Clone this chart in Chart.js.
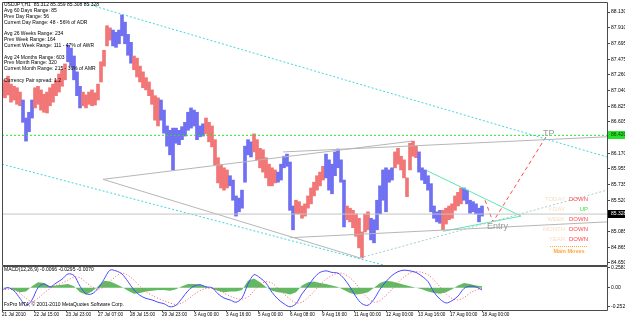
<!DOCTYPE html>
<html>
<head>
<meta charset="utf-8">
<title>USDJPY H1</title>
<script src="https://cdn.jsdelivr.net/npm/chart.js@4.4.1/dist/chart.umd.min.js"></script>
<style>
  html, body { margin: 0; padding: 0; background: #fff; }
  #wrap { position: relative; width: 625px; height: 319px; background: #fff; overflow: hidden; }
  canvas { position: absolute; left: 0; }
  #price { top: 0; }
  #macd  { top: 258px; }
</style>
</head>
<body>
<div id="wrap">
  <canvas id="price" width="625" height="266"></canvas>
  <canvas id="macd" width="625" height="61"></canvas>
</div>
<script>
/* USDJPY H1 — MT4 screen with trend lines, range info and MACD pane */

// ---- price bars, one sample every 3 hours (bar index from 21 Jul 2010 00:00)
const barHigh = [
  87.13, 87.19, 87.24, 87.13, 87.10, 87.08, 87.02, 86.91, 86.66, 86.74,
  86.91, 87.08, 87.10, 87.05, 86.99, 87.02, 87.08, 87.13, 87.19, 87.27,
  87.33, 87.41, 87.67, 87.63, 87.52, 87.30, 87.10, 87.02, 86.98, 87.02,
  87.05, 87.01, 87.13, 87.44, 87.60, 87.94, 87.91, 87.88, 87.85, 87.88,
  88.09, 87.99, 87.82, 87.71, 87.52, 87.49, 87.38, 87.30, 87.22, 87.16,
  87.05, 86.97, 86.94, 86.91, 86.77, 86.55, 86.49, 86.52, 86.52, 86.49,
  86.54, 86.60, 86.74, 86.80, 86.77, 86.74, 86.55, 86.58, 86.66, 86.60,
  86.55, 86.36, 86.11, 86.01, 85.97, 85.94, 85.86, 85.80, 85.58, 85.55,
  85.66, 86.27, 86.36, 86.33, 86.44, 86.36, 86.24, 86.22, 86.11, 86.02,
  85.97, 85.94, 85.91, 86.02, 86.13, 86.16, 86.05, 85.44, 85.52, 85.50,
  85.44, 85.47, 85.58, 85.69, 85.77, 85.86, 85.91, 85.99, 86.16, 86.08,
  86.02, 86.19, 86.23, 86.08, 85.80, 85.44, 85.41, 85.38, 85.33, 85.27,
  85.08, 85.33, 85.36, 85.27, 85.25, 85.52, 85.72, 85.94, 85.97, 85.94,
  85.97, 86.19, 86.24, 86.13, 86.08, 85.83, 86.31, 86.34, 86.27, 86.19,
  85.97, 85.94, 85.86, 85.75, 85.44, 85.36, 85.38, 85.38, 85.41, 85.44,
  85.47, 85.58, 85.63, 85.69, 85.69, 85.66, 85.52, 85.50, 85.47, 85.41,
  85.44
];
const barLow = [
  86.97, 86.94, 86.98, 86.88, 86.91, 86.85, 86.83, 86.60, 86.34, 86.47,
  86.66, 86.80, 86.85, 86.77, 86.74, 86.73, 86.83, 86.88, 86.97, 87.02,
  87.10, 87.19, 87.44, 87.38, 87.19, 86.97, 86.80, 86.83, 86.80, 86.85,
  86.83, 86.84, 86.91, 87.16, 87.38, 87.66, 87.74, 87.66, 87.64, 87.69,
  87.80, 87.69, 87.53, 87.42, 87.33, 87.23, 87.16, 87.08, 87.05, 86.97,
  86.85, 86.63, 86.55, 86.63, 86.45, 86.27, 86.15, 85.94, 86.31, 86.29,
  86.36, 86.41, 86.49, 86.52, 86.55, 86.36, 86.40, 86.41, 86.44, 86.33,
  86.26, 86.01, 85.76, 85.69, 85.66, 85.69, 85.72, 85.52, 85.30, 85.36,
  85.41, 85.77, 86.15, 86.12, 86.19, 86.08, 85.97, 85.91, 85.83, 85.72,
  85.72, 85.76, 85.77, 85.80, 85.97, 85.99, 85.38, 85.11, 85.33, 85.33,
  85.27, 85.30, 85.41, 85.47, 85.58, 85.66, 85.72, 85.80, 85.83, 85.66,
  85.61, 85.86, 85.97, 85.77, 85.15, 85.25, 85.22, 85.14, 85.02, 84.86,
  84.72, 85.08, 85.11, 84.97, 84.93, 85.11, 85.33, 85.52, 85.36, 85.77,
  85.80, 85.97, 86.02, 85.94, 85.83, 85.57, 85.94, 86.13, 86.11, 85.91,
  85.80, 85.75, 85.66, 85.36, 85.27, 85.22, 85.20, 85.11, 85.19, 85.25,
  85.27, 85.38, 85.44, 85.47, 85.52, 85.47, 85.34, 85.36, 85.33, 85.22,
  85.30
];
// B = up swing (blue), R = down swing (red)
const barDir =
  'RRRRRRR' + 'BBBB' + 'RRRRRRRRRRR' + 'BBBBB' + 'RRRRRRRRRR' + 'BBBBBBB' +
  'RRRRRRRRR' + 'BBBBBBBBBBBBBBB' + 'RRRRRRRR' + 'BBBBBBBB' + 'RRRRRRRR' +
  'BBBBBB' + 'RRRRRRRRRR' + 'BBBBBBB' + 'RRRRRRRR' + 'BBBBBBBB' + 'RRRRRRRR' +
  'BBBBBBBB' + 'RRRRRRR' + 'BBBBBBB';
const barHours = barHigh.map((_, i) => i * 3);

// ---- MACD pane, one sample every 6 hours
const macdMain = [
  -0.03, 0.00, -0.04, -0.14, -0.235, -0.16, 0.00, 0.05, 0.01, 0.06,
  0.11, 0.18, 0.16, 0.02, -0.08, -0.08, -0.01, 0.11, 0.23, 0.22,
  0.18, 0.08, -0.03, -0.10, -0.14, -0.16, -0.19, -0.21, -0.25, -0.23,
  -0.14, -0.04, 0.02, 0.04, 0.01, 0.00, -0.08, -0.135, -0.16, -0.19,
  -0.135, 0.05, 0.17, 0.13, 0.06, -0.06, -0.15, -0.21, -0.25, -0.21,
  -0.08, 0.02, 0.13, 0.20, 0.22, 0.20, 0.19, 0.12, 0.01, -0.12,
  -0.21, -0.23, -0.15, -0.02, 0.08, 0.16, 0.21, 0.23, 0.22, 0.20,
  0.15, 0.08, -0.06, -0.15, -0.20, -0.17, -0.11, -0.01, 0.02, 0.01,
  -0.03
];
const macdSignal = [
  -0.02, -0.02, -0.03, -0.07, -0.14, -0.18, -0.14, -0.07, -0.01, 0.03,
  0.06, 0.10, 0.14, 0.13, 0.07, 0.01, -0.02, 0.01, 0.08, 0.15,
  0.19, 0.16, 0.10, 0.02, -0.05, -0.10, -0.14, -0.17, -0.20, -0.22,
  -0.20, -0.15, -0.09, -0.04, -0.01, -0.01, -0.03, -0.07, -0.11, -0.14,
  -0.15, -0.12, -0.04, 0.04, 0.08, 0.06, -0.01, -0.08, -0.15, -0.20,
  -0.19, -0.13, -0.05, 0.04, 0.11, 0.16, 0.19, 0.18, 0.13, 0.05,
  -0.05, -0.14, -0.19, -0.17, -0.10, -0.02, 0.07, 0.14, 0.19, 0.21,
  0.20, 0.17, 0.10, 0.01, -0.08, -0.14, -0.16, -0.13, -0.07, -0.03,
  -0.01
];
const macdHist = [
  0.00, 0.01, -0.03, -0.06, -0.05, 0.02, 0.07, 0.06, 0.02, 0.03,
  0.04, 0.05, 0.02, -0.06, -0.09, -0.05, 0.02, 0.09, 0.08, 0.05,
  0.01, -0.04, -0.08, -0.07, -0.05, -0.04, -0.03, -0.03, -0.04, -0.02,
  0.02, 0.05, 0.05, 0.04, 0.02, -0.01, -0.04, -0.06, -0.05, -0.05,
  -0.03, 0.09, 0.12, 0.07, 0.01, -0.04, -0.06, -0.07, -0.09, -0.06,
  0.03, 0.07, 0.08, 0.06, 0.05, 0.03, 0.01, -0.03, -0.07, -0.09,
  -0.08, -0.06, 0.00, 0.06, 0.09, 0.08, 0.06, 0.04, 0.02, 0.00,
  -0.02, -0.05, -0.07, -0.08, -0.06, -0.02, 0.03, 0.06, 0.05, 0.03,
  0.02
];
const macdHours = macdMain.map((_, i) => i * 6);

// ---- axes
const priceTicks = [88.130, 87.910, 87.695, 87.475, 87.260, 87.040, 86.825, 86.605, 86.390,
                    86.170, 85.955, 85.735, 85.520, 85.300, 85.085, 84.865, 84.650];
const macdTicks = [0.2583, 0, -0.2520];
const macdTickLabels = ['0.2583', '0.00', '-0.2520'];
const timeTicks = [0, 32, 64, 96, 128, 160, 192, 224, 256, 288, 320, 352, 384, 416, 448, 480];
const timeLabels = ['21 Jul 2010', '22 Jul 15:00', '23 Jul 23:00', '27 Jul 07:00', '28 Jul 15:00',
                    '29 Jul 23:00', '3 Aug 00:00', '3 Aug 16:00', '5 Aug 00:00', '6 Aug 08:00',
                    '9 Aug 16:00', '11 Aug 00:00', '12 Aug 00:00', '13 Aug 16:00', '17 Aug 00:00',
                    '18 Aug 00:00'];

// ---- drawn objects: [bar index, price]
const chanUpper  = [[78, 88.27], [605, 86.12]];
const chanLower  = [[0, 86.02], [390, 84.59]];
const lowRay     = [[358, 84.72], [605, 85.66]];
const wedgeTop   = [[101, 85.81], [410, 86.34]];
const wedgeBot   = [[101, 85.81], [358, 84.72]];
const rangeTop   = [[281, 86.19], [605, 86.40]];
const rangeBot   = [[288, 85.00], [605, 85.22]];
const triUpper   = [[425, 85.93], [519, 85.30]];
const triLower   = [[441, 85.09], [519, 85.30]];
const projection = [[483, 85.52], [491, 85.22], [544, 86.40]];
const levelPrice = 86.420;
const bidPrice   = 85.328;
const tpMark     = [541, 86.45];
const entryMark  = [485, 85.16];

// ---- text
const infoLines = [
  'USDJPY,H1  85.312 85.359 85.308 85.328',
  'Avg 60 Days Range: 85',
  'Prev Day Range: 56',
  'Current Day Range: 48 - 56% of ADR',
  '',
  'Avg 26 Weeks Range: 234',
  'Prev Week Range: 164',
  'Current Week Range: 111 - 47% of AWR',
  '',
  'Avg 24 Months Range: 603',
  'Prev Month Range: 320',
  'Current Month Range: 215 - 36% of AMR',
  '',
  'Currency Pair spread: 1.2'
];
const moveNames  = ['TODAY', 'Y-DAY', 'WEEK', 'MONTH', 'YEAR'];
const moveValues = ['DOWN', 'UP', 'DOWN', 'DOWN', 'DOWN'];
const macdTitle  = 'MACD(12,26,9) -0.0066 -0.0295 -0.0070';
const copyright  = 'FxPro MT4, \u00a9 2001-2010 MetaQuotes Software Corp.';

const FONT  = '"Liberation Sans", Arial, sans-serif';
const BULL  = '#7070f2';
const BEAR  = '#f27676';
const FRAME = '#4a4a4a';

Chart.defaults.font.family = FONT;

function lineSet(pts, color, dash) {
  return {
    type: 'line',
    data: pts.map(([x, y]) => ({ x, y })),
    borderColor: color,
    borderWidth: 1,
    borderDash: dash || [],
    pointRadius: 0,
    tension: 0,
    fill: false,
    order: 1
  };
}

function fixedScale(size, axis) {
  return s => {
    if (axis === 'y') s.width = size; else s.height = size;
    s.paddingTop = s.paddingBottom = s.paddingLeft = s.paddingRight = 0;
  };
}

const priceOverlay = {
  id: 'priceOverlay',
  afterDraw(chart) {
    const { ctx, chartArea: a, scales: { x, y } } = chart;
    ctx.save();

    // pane frame
    ctx.strokeStyle = FRAME;
    ctx.lineWidth = 1;
    ctx.beginPath();
    ctx.moveTo(a.left + 0.5, a.bottom + 0.5);
    ctx.lineTo(a.left + 0.5, a.top + 0.5);
    ctx.lineTo(a.right + 0.5, a.top + 0.5);
    ctx.lineTo(a.right + 0.5, a.bottom + 0.5);
    ctx.lineTo(a.left + 0.5, a.bottom + 0.5);
    ctx.stroke();

    // range info, top left
    ctx.font = `5px ${FONT}`;
    ctx.fillStyle = '#000';
    ctx.textBaseline = 'middle';
    ctx.textAlign = 'left';
    infoLines.forEach((t, i) => ctx.fillText(t, a.left + 2, a.top + 3 + i * 5.8));

    // TP / Entry
    ctx.font = `9px ${FONT}`;
    ctx.fillStyle = '#9a9a9a';
    ctx.fillText('TP', x.getPixelForValue(tpMark[0]), y.getPixelForValue(tpMark[1]));
    ctx.fillText('Entry', x.getPixelForValue(entryMark[0]), y.getPixelForValue(entryMark[1]));

    // main moves table
    ctx.font = `6px ${FONT}`;
    moveNames.forEach((n, i) => {
      const ty = a.top + 197 + i * 10;
      ctx.textAlign = 'right';
      ctx.fillStyle = '#f6dcc6';
      ctx.fillText(n, a.right - 42, ty);
      ctx.fillStyle = moveValues[i] === 'UP' ? '#3ee23e' : '#ff4646';
      ctx.fillText(moveValues[i], a.right - 19, ty);
    });
    ctx.strokeStyle = '#ffa640';
    ctx.setLineDash([1, 1]);
    ctx.beginPath();
    ctx.moveTo(a.right - 57, a.top + 244.5);
    ctx.lineTo(a.right - 19, a.top + 244.5);
    ctx.stroke();
    ctx.setLineDash([]);
    ctx.font = `bold 5.5px ${FONT}`;
    ctx.fillStyle = '#ffa640';
    ctx.textAlign = 'center';
    ctx.fillText('Main Moves', a.right - 38, a.top + 249);

    // price boxes on the axis
    ctx.font = `5px ${FONT}`;
    ctx.textAlign = 'left';
    const box = (price, bg, fg) => {
      const py = Math.round(y.getPixelForValue(price));
      ctx.fillStyle = bg;
      ctx.fillRect(a.right + 1, py - 4, chart.width - a.right - 1, 8);
      ctx.fillStyle = fg;
      ctx.fillText(price.toFixed(3), a.right + 4, py);
    };
    box(levelPrice, '#28e028', '#003300');
    box(bidPrice, '#000', '#fff');

    ctx.restore();
  }
};

new Chart(document.getElementById('price'), {
  type: 'bar',
  data: {
    datasets: [
      {
        type: 'bar',
        data: barHours.map((h, i) => ({ x: h, y: [barLow[i], barHigh[i]] })),
        backgroundColor: barHours.map((_, i) => barDir[i] === 'B' ? BULL : BEAR),
        barThickness: 3,
        borderWidth: 0,
        borderSkipped: false,
        order: 10
      },
      lineSet([[0, levelPrice], [605, levelPrice]], '#2fdc2f', [2, 2]),
      lineSet([[0, bidPrice], [605, bidPrice]], '#c4c4c4'),
      lineSet(chanUpper, '#3fd6e0', [2, 2]),
      lineSet(chanLower, '#3fd6e0', [2, 2]),
      lineSet(lowRay, '#a4ccd4', [2, 2]),
      lineSet(wedgeTop, '#b6b6b6'),
      lineSet(wedgeBot, '#b6b6b6'),
      lineSet(rangeTop, '#b6b6b6'),
      lineSet(rangeBot, '#b6b6b6'),
      lineSet(triUpper, '#5ee6b0'),
      lineSet(triLower, '#5ee6b0'),
      lineSet(projection, '#ff4d4d', [4, 3])
    ]
  },
  options: {
    responsive: false,
    animation: false,
    devicePixelRatio: 1,
    layout: { padding: { left: 2, top: 2, right: 0, bottom: 1 } },
    plugins: { legend: { display: false }, tooltip: { enabled: false } },
    scales: {
      x: { type: 'linear', min: 0, max: 605, offset: false, display: false },
      y: {
        position: 'right',
        min: 84.622,
        max: 88.269,
        afterBuildTicks: s => { s.ticks = priceTicks.map(v => ({ value: v })); },
        afterFit: fixedScale(18, 'y'),
        ticks: {
          autoSkip: false,
          padding: 1,
          color: '#000',
          font: { size: 5 },
          callback: v => v.toFixed(3)
        },
        grid: { drawOnChartArea: false, tickLength: 3, color: FRAME },
        border: { display: false }
      }
    }
  },
  plugins: [priceOverlay]
});

const macdOverlay = {
  id: 'macdOverlay',
  afterDraw(chart) {
    const { ctx, chartArea: a } = chart;
    ctx.save();
    ctx.strokeStyle = FRAME;
    ctx.lineWidth = 1;
    ctx.beginPath();
    ctx.moveTo(a.left + 0.5, a.top - 0.5);
    ctx.lineTo(a.right + 0.5, a.top - 0.5);
    ctx.lineTo(a.right + 0.5, a.bottom + 0.5);
    ctx.lineTo(a.left + 0.5, a.bottom + 0.5);
    ctx.lineTo(a.left + 0.5, a.top - 0.5);
    ctx.stroke();

    ctx.font = `5px ${FONT}`;
    ctx.fillStyle = '#000';
    ctx.textBaseline = 'middle';
    ctx.textAlign = 'left';
    ctx.fillText(macdTitle, a.left + 2, a.top + 3);
    ctx.fillText(copyright, a.left + 2, a.bottom - 5);
    ctx.restore();
  }
};

new Chart(document.getElementById('macd'), {
  type: 'line',
  data: {
    datasets: [
      {
        data: macdHours.map((h, i) => ({ x: h, y: macdHist[i] })),
        borderWidth: 0,
        backgroundColor: '#63b863',
        fill: 'origin',
        pointRadius: 0,
        tension: 0,
        order: 3
      },
      {
        data: macdHours.map((h, i) => ({ x: h, y: macdSignal[i] })),
        borderColor: '#ff5a5a',
        borderWidth: 1,
        borderDash: [1, 2],
        pointRadius: 0,
        tension: 0.3,
        order: 2
      },
      {
        data: macdHours.map((h, i) => ({ x: h, y: macdMain[i] })),
        borderColor: '#4a4aff',
        borderWidth: 1,
        pointRadius: 0,
        tension: 0.3,
        order: 1
      }
    ]
  },
  options: {
    responsive: false,
    animation: false,
    devicePixelRatio: 1,
    layout: { padding: { left: 2, top: 9, right: 0, bottom: 0 } },
    plugins: { legend: { display: false }, tooltip: { enabled: false } },
    scales: {
      x: {
        type: 'linear',
        min: 0,
        max: 605,
        offset: false,
        afterBuildTicks: s => { s.ticks = timeTicks.map(v => ({ value: v })); },
        afterFit: fixedScale(9, 'x'),
        ticks: {
          autoSkip: false,
          maxRotation: 0,
          align: 'start',
          padding: 0,
          color: '#000',
          font: { size: 4.6 },
          callback: (v, i) => timeLabels[i]
        },
        grid: { drawOnChartArea: false, tickLength: 2, color: FRAME },
        border: { display: false }
      },
      y: {
        position: 'right',
        min: -0.2918,
        max: 0.2709,
        afterBuildTicks: s => { s.ticks = macdTicks.map(v => ({ value: v })); },
        afterFit: fixedScale(18, 'y'),
        ticks: {
          autoSkip: false,
          padding: 1,
          color: '#000',
          font: { size: 5 },
          callback: (v, i) => macdTickLabels[i]
        },
        grid: { drawOnChartArea: false, tickLength: 3, color: FRAME },
        border: { display: false }
      }
    }
  },
  plugins: [macdOverlay]
});
</script>
</body>
</html>
